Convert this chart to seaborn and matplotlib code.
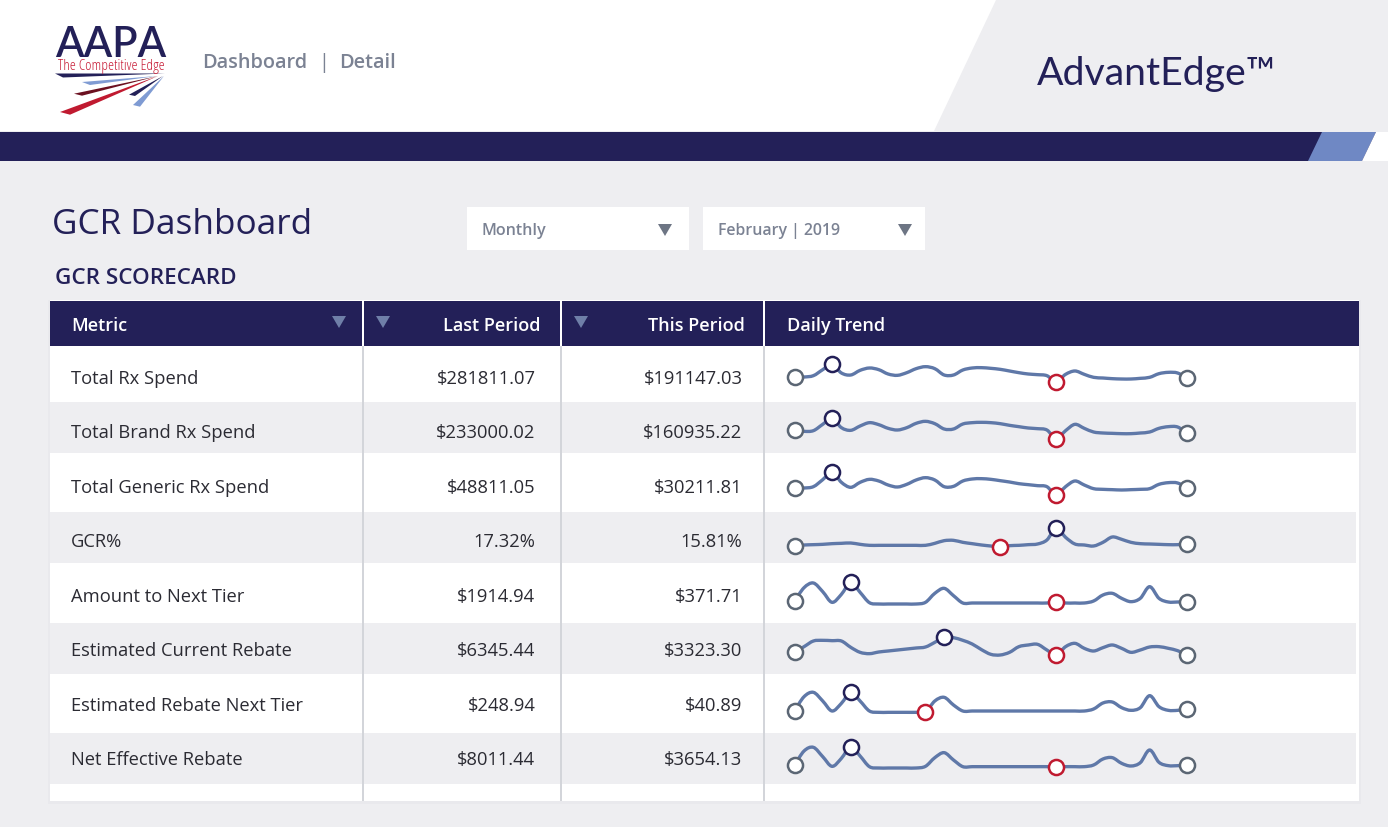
import numpy as np
import pandas as pd
import matplotlib
matplotlib.use("Agg")
import matplotlib.pyplot as plt
import seaborn as sns
from matplotlib.patches import Polygon, Rectangle
from matplotlib.path import Path
from matplotlib.patheffects import AbstractPathEffect

W, H = 1388, 828

NAVY = '#232058'
PAGE = '#eeeef1'
STEEL = '#5f78a8'
SLATE = '#7b8293'
RED = '#c01a30'

metrics = ['Total Rx Spend', 'Total Brand Rx Spend', 'Total Generic Rx Spend', 'GCR%',
           'Amount to Next Tier', 'Estimated Current Rebate', 'Estimated Rebate Next Tier',
           'Net Effective Rebate']
last_period = ['$281811.07', '$233000.02', '$48811.05', '17.32%',
               '$1914.94', '$6345.44', '$248.94', '$8011.44']
this_period = ['$191147.03', '$160935.22', '$30211.81', '15.81%',
               '$371.71', '$3323.30', '$40.89', '$3654.13']
columns = ['Metric', 'Last Period', 'This Period', 'Daily Trend']

# half day readings of the sparklines, one unit is a third of a pixel
trend_total = [53, 54, 58, 76, 92, 66, 60, 74, 81, 76, 63, 59, 67, 79, 85, 79, 60, 60, 75, 81, 82, 80,
               77, 72, 67, 63, 61, 58, 40, 62, 72, 62, 53, 51, 49, 48, 48, 50, 53, 64, 68, 66, 50]
trend_brand = [57, 53, 55, 74, 92, 64, 56, 69, 79, 73, 62, 57, 64, 77, 83, 76, 60, 60, 75, 79, 80, 79,
               76, 71, 67, 63, 61, 57, 31, 55, 74, 62, 51, 48, 47, 46, 46, 48, 51, 62, 67, 66, 47]
trend_generic = [35, 36, 40, 61, 84, 53, 38, 53, 62, 57, 45, 39, 47, 60, 67, 60, 40, 41, 57, 63, 64, 62,
                 58, 54, 49, 46, 43, 40, 15, 40, 57, 45, 34, 32, 31, 30, 31, 32, 34, 47, 52, 51, 36]
trend_gcr = [25, 27, 28, 29, 31, 32, 33, 29, 26, 26, 26, 26, 26, 26, 26, 32, 40, 41, 35, 31, 27, 24,
             21, 25, 26, 28, 30, 42, 78, 50, 30, 27, 24, 35, 51, 44, 35, 31, 30, 29, 28, 28, 30]
trend_next_tier = [42, 82, 96, 70, 38, 62, 98, 68, 37, 33, 33, 33, 33, 33, 38, 65, 80, 58, 36, 36, 36, 36,
                   36, 36, 36, 36, 36, 36, 40, 36, 36, 36, 42, 60, 65, 50, 40, 50, 85, 50, 39, 39, 40]
trend_current = [38, 55, 72, 74, 73, 72, 53, 38, 34, 39, 42, 45, 48, 51, 54, 68, 84, 82, 74, 63, 46, 32,
                 30, 38, 55, 60, 62, 45, 30, 55, 65, 50, 42, 52, 60, 50, 38, 45, 54, 55, 50, 43, 30]
trend_rebate_next = [43, 85, 98, 72, 42, 65, 98, 72, 42, 38, 38, 38, 38, 38, 39, 72, 83, 60, 42, 42, 42, 42,
                     42, 42, 42, 42, 42, 42, 42, 42, 42, 42, 48, 66, 69, 52, 44, 52, 88, 55, 44, 44, 48]
trend_net = [45, 87, 98, 70, 41, 65, 100, 72, 40, 36, 36, 36, 36, 36, 41, 67, 82, 60, 40, 40, 40, 40,
             40, 40, 40, 40, 40, 40, 39, 40, 40, 40, 45, 63, 67, 50, 42, 52, 90, 53, 43, 43, 44]
trends = [trend_total, trend_brand, trend_generic, trend_gcr,
          trend_next_tier, trend_current, trend_rebate_next, trend_net]

# index of the highlighted readings in each trend
high_idx = [4, 4, 4, 28, 6, 16, 6, 6]
low_idx = [28, 28, 28, 22, 28, 28, 14, 28]

row_centers = [378, 432, 487, 541, 596, 650, 705, 759]
trend_bottoms = [396, 450, 501, 555, 616, 666, 726, 781]
grey_rows = [(402, 453), (512, 563), (623, 674), (733, 784)]


class SmoothLine(AbstractPathEffect):
    # only changes how the line is stroked, the readings stay as they are
    def draw_path(self, renderer, gc, tpath, affine, rgbFace=None):
        p = np.asarray(tpath.vertices)
        if len(p) < 3:
            renderer.draw_path(gc, tpath, affine, rgbFace)
            return
        pts = affine.transform(p)
        verts = [pts[0]]
        for i in range(len(pts) - 1):
            before = pts[max(i - 1, 0)]
            after = pts[min(i + 2, len(pts) - 1)]
            verts.append(pts[i] + (pts[i + 1] - before) / 6)
            verts.append(pts[i + 1] - (after - pts[i]) / 6)
            verts.append(pts[i + 1])
        codes = [Path.MOVETO] + [Path.CURVE4] * (len(verts) - 1)
        renderer.draw_path(gc, Path(np.array(verts), codes), matplotlib.transforms.IdentityTransform(), rgbFace)


def poly(ax, pts, color, z=2):
    ax.add_patch(Polygon(pts, closed=True, facecolor=color, edgecolor='none', zorder=z))


def rect(ax, x0, y0, x1, y1, color, z=1):
    ax.add_patch(Rectangle((x0, y0), x1 - x0, y1 - y0, facecolor=color, edgecolor='none', zorder=z))


def draw_header(ax):
    rect(ax, 0, 0, W, 131, 'white')
    poly(ax, [(996, 0), (W, 0), (W, 131), (934, 131)], PAGE)
    rect(ax, 0, 132, W, 161, NAVY)
    poly(ax, [(1322, 132), (1376, 132), (1362, 161), (1308, 161)], '#6f88c4', 3)
    poly(ax, [(1376, 132), (W, 132), (W, 161), (1362, 161)], 'white', 3)

    # logo
    ax.text(111, 56, 'AAPA', color=NAVY, fontsize=30, family='Lato', weight='semibold',
            ha='center', va='baseline', zorder=4)
    ax.text(111, 69, 'The Competitive Edge', color='#c8203a', fontsize=11, family='Open Sans',
            ha='center', va='baseline', zorder=4, stretch='condensed')
    poly(ax, [(55, 73.5), (165, 73.5), (63, 77.5)], NAVY)
    poly(ax, [(82, 82), (157, 76), (90, 85)], '#7f9bd3')
    poly(ax, [(74, 93.7), (158, 76), (82, 95.7)], '#6b1020')
    poly(ax, [(60, 112), (158, 76), (70, 114.7)], '#c01a30')
    poly(ax, [(129, 94.7), (163, 76), (135, 96)], NAVY)
    poly(ax, [(133, 105), (164, 76), (140, 106.7)], '#7f9bd3')

    ax.text(202.5, 62, 'Dashboard', color=SLATE, fontsize=14.3, weight='semibold', va='center', zorder=4)
    ax.text(324, 62, '|', color=SLATE, fontsize=14.3, ha='center', va='center', zorder=4)
    ax.text(339.5, 62, 'Detail', color=SLATE, fontsize=14.3, weight='semibold', va='center', zorder=4)
    ax.text(1037, 84, 'AdvantEdge™', color=NAVY, fontsize=28.3, family='Lato', va='baseline', zorder=4)


def draw_filters(ax):
    ax.text(52, 233, 'GCR Dashboard', color=NAVY, fontsize=25.3, va='baseline', zorder=4)
    ax.text(55, 278, 'GCR SCORECARD', color=NAVY, fontsize=16.2, weight='semibold', va='center', zorder=4)
    for x0, label, size, tri in [(467, 'Monthly', 11.6, 191), (703, 'February | 2019', 11.4, 195)]:
        rect(ax, x0, 207, x0 + 222, 250, 'white')
        ax.text(x0 + 15, 230, label, color=SLATE, fontsize=size, weight='semibold', va='center', zorder=4)
        poly(ax, [(x0 + tri, 224), (x0 + tri + 14, 224), (x0 + tri + 7, 236)], '#6d7584')


def draw_table(ax):
    rect(ax, 48, 300, 1361, 804, '#e9e9ed', 1)
    rect(ax, 50, 300, 1359, 801, 'white', 1)
    rect(ax, 50, 301, 1359, 346, NAVY, 2)
    for y0, y1 in grey_rows:
        rect(ax, 50, y0, 1356, y1, PAGE, 2)
    for x in [363.5, 561.5, 764.5]:
        rect(ax, x - 1, 300, x + 1, 346, 'white', 3)
        rect(ax, x - 1, 346, x + 1, 801, '#d3d5da', 3)
    for x in [332, 376, 574]:
        poly(ax, [(x, 316), (x + 14, 316), (x + 7, 328)], '#6f7fa8', 4)

    ax.text(71, 325, columns[0], color='white', fontsize=13, weight='semibold', va='center', zorder=4)
    ax.text(540.5, 325, columns[1], color='white', fontsize=13, weight='semibold', ha='right', va='center', zorder=4)
    ax.text(744.5, 325, columns[2], color='white', fontsize=13, weight='semibold', ha='right', va='center', zorder=4)
    ax.text(787, 325, columns[3], color='white', fontsize=13, weight='semibold', va='center', zorder=4)

    for y, name, last, this in zip(row_centers, metrics, last_period, this_period):
        ax.text(71, y, name, color='#2b2b33', fontsize=13.2, va='center', zorder=4)
        ax.text(535.5, y, last, color='#2b2b33', fontsize=13.2, ha='right', va='center', zorder=4)
        ax.text(742.5, y, this, color='#2b2b33', fontsize=13.2, ha='right', va='center', zorder=4)


def draw_trend(fig, values, bottom, hi, lo):
    # axes is 392 px wide and 50 px tall, 21 days across
    ax = fig.add_axes([794.7 / W, 1 - bottom / H, 392.3 / W, 50 / H], facecolor='none')
    df = pd.DataFrame({'day': np.arange(len(values)) / 2, 'value': values})
    sns.lineplot(data=df, x='day', y='value', ax=ax, color=STEEL, linewidth=2.4, errorbar=None,
                 estimator=None, sort=False, solid_joinstyle='round', clip_on=False)
    ax.lines[0].set_path_effects([SmoothLine()])
    for idx, color in [(0, '#5b6674'), (len(values) - 1, '#5b6674'), (hi, NAVY), (lo, RED)]:
        sns.scatterplot(data=df.iloc[[idx]], x='day', y='value', ax=ax, s=118, color='white',
                        edgecolor=color, linewidth=1.8, clip_on=False, zorder=5)
    ax.set_xlim(0, 21)
    ax.set_ylim(0, 150)
    ax.axis('off')


def main():
    sns.set_theme(style='white')
    plt.rcParams['font.family'] = ['Open Sans', 'DejaVu Sans']

    fig = plt.figure(figsize=(W / 100, H / 100), dpi=100, facecolor=PAGE)
    ax = fig.add_axes([0, 0, 1, 1])
    ax.set_xlim(0, W)
    ax.set_ylim(H - 1, -1)
    ax.axis('off')

    draw_header(ax)
    draw_filters(ax)
    draw_table(ax)

    for values, bottom, hi, lo in zip(trends, trend_bottoms, high_idx, low_idx):
        draw_trend(fig, values, bottom, hi, lo)

    fig.savefig('out.png', dpi=100, facecolor=PAGE)


if __name__ == "__main__":
    main()
